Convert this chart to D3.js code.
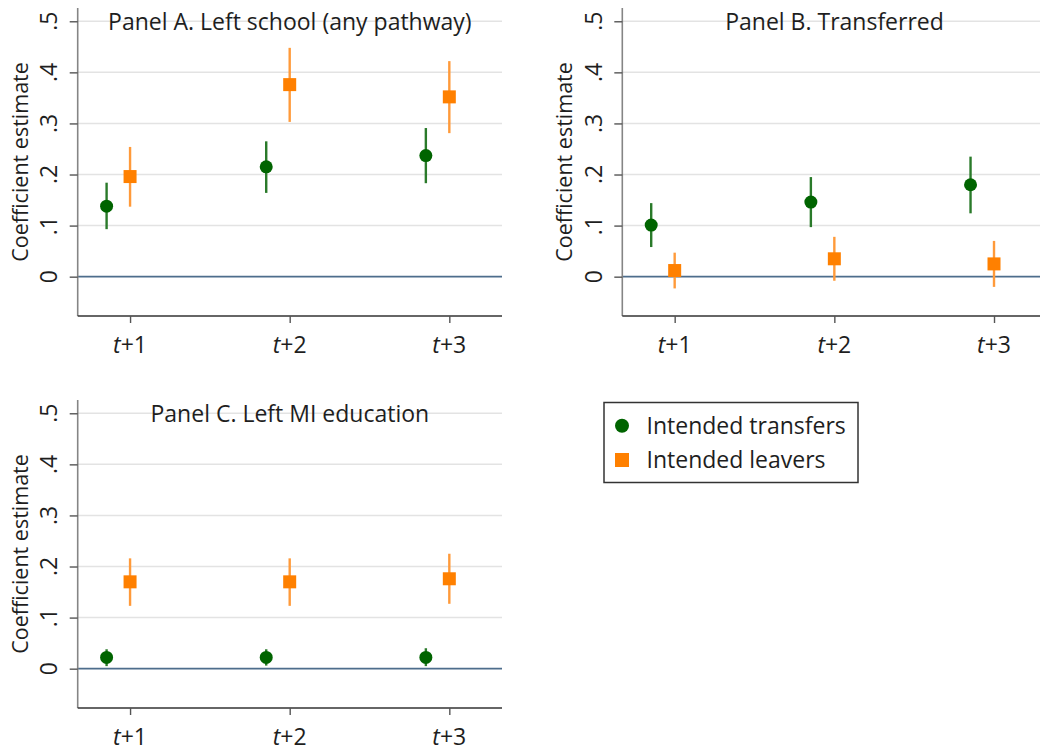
<!DOCTYPE html>
<html>
<head>
<meta charset="utf-8">
<script src="https://cdn.jsdelivr.net/npm/d3@7"></script>
<style>
  html, body { margin: 0; padding: 0; background: #fff; }
  svg { display: block; font-family: "Open Sans", "Noto Sans", sans-serif; }
</style>
</head>
<body>
<svg id="chart" width="1040" height="751"></svg>
<script>
// Horizons (x positions 1, 2, 3)
const horizons = [1, 2, 3];
const horizonLabels = ["+1", "+2", "+3"];
const yTicks = [0, 0.1, 0.2, 0.3, 0.4, 0.5];
const yTickLabels = ["0", ".1", ".2", ".3", ".4", ".5"];

const seriesNames = ["Intended transfers", "Intended leavers"];

// Panel A. Left school (any pathway)
const aTransfers = [0.138, 0.215, 0.237];
const aTransfersLo = [0.093, 0.164, 0.183];
const aTransfersHi = [0.184, 0.265, 0.291];
const aLeavers = [0.196, 0.376, 0.352];
const aLeaversLo = [0.137, 0.303, 0.281];
const aLeaversHi = [0.254, 0.448, 0.422];

// Panel B. Transferred
const bTransfers = [0.101, 0.146, 0.180];
const bTransfersLo = [0.058, 0.097, 0.124];
const bTransfersHi = [0.144, 0.195, 0.235];
const bLeavers = [0.012, 0.035, 0.025];
const bLeaversLo = [-0.023, -0.008, -0.020];
const bLeaversHi = [0.047, 0.078, 0.070];

// Panel C. Left MI education
const cTransfers = [0.022, 0.022, 0.022];
const cTransfersLo = [0.005, 0.006, 0.005];
const cTransfersHi = [0.038, 0.038, 0.040];
const cLeavers = [0.170, 0.170, 0.176];
const cLeaversLo = [0.123, 0.123, 0.127];
const cLeaversHi = [0.216, 0.216, 0.225];

const GREEN = "#006400", GREEN_BAR = "#2a7a2a";
const ORANGE = "#ff8000", ORANGE_BAR = "#ff9a3a";
const FONT = 23;
const LABEL_FONT = 21.5;
const INK = "#1e1e1e";

const panels = [
  { title: "Panel A. Left school (any pathway)", left: 77.7, right: 502, top: 8, bottom: 316,
    t: [aTransfers, aTransfersLo, aTransfersHi], l: [aLeavers, aLeaversLo, aLeaversHi] },
  { title: "Panel B. Transferred", left: 622.3, right: 1046.7, top: 8, bottom: 316,
    t: [bTransfers, bTransfersLo, bTransfersHi], l: [bLeavers, bLeaversLo, bLeaversHi] },
  { title: "Panel C. Left MI education", left: 77.7, right: 502, top: 400, bottom: 708,
    t: [cTransfers, cTransfersLo, cTransfersHi], l: [cLeavers, cLeaversLo, cLeaversHi] }
];

const svg = d3.select("#chart");

function drawPanel(p) {
  const g = svg.append("g");
  const x = d3.scaleLinear().domain([0.672, 3.33]).range([p.left, p.right]);
  const y = d3.scaleLinear().domain([-0.077, 0.526]).range([p.bottom, p.top]);

  // gridlines
  g.selectAll("line.grid").data(yTicks.filter(v => v > 0)).join("line")
    .attr("x1", p.left).attr("x2", p.right)
    .attr("y1", d => y(d)).attr("y2", d => y(d))
    .attr("stroke", "#e3e3e3").attr("stroke-width", 1.5);

  // zero reference line
  g.append("line")
    .attr("x1", p.left).attr("x2", p.right)
    .attr("y1", y(0)).attr("y2", y(0))
    .attr("stroke", "#4d6d8c").attr("stroke-width", 1.6);

  // y axis
  const yAxis = d3.axisLeft(y).tickValues(yTicks).tickSize(8).tickFormat("");
  const ya = g.append("g").attr("transform", `translate(${p.left},0)`).call(yAxis);
  ya.select(".domain").attr("stroke", "#858585").attr("stroke-width", 1.6)
    .attr("d", `M0,${p.top}V${p.bottom}`);
  ya.selectAll(".tick line").attr("stroke", "#555").attr("stroke-width", 1.4);

  g.selectAll("text.ytl").data(yTicks).join("text")
    .attr("transform", (d) => `translate(${p.left - 20.5},${y(d)}) rotate(-90)`)
    .attr("text-anchor", "middle")
    .attr("font-size", FONT).attr("fill", INK)
    .text((d, i) => yTickLabels[i]);

  g.append("text")
    .attr("transform", `translate(${p.left - 50},${(p.top + p.bottom) / 2}) rotate(-90)`)
    .attr("text-anchor", "middle")
    .attr("font-size", LABEL_FONT).attr("fill", INK)
    .text("Coefficient estimate");

  // x axis
  const xAxis = d3.axisBottom(x).tickValues(horizons).tickSize(7).tickFormat("");
  const xa = g.append("g").attr("transform", `translate(0,${p.bottom})`).call(xAxis);
  xa.select(".domain").attr("stroke", "#333").attr("stroke-width", 1.6)
    .attr("d", `M${p.left},0H${p.right}`);
  xa.selectAll(".tick line").attr("stroke", "#555").attr("stroke-width", 1.4);

  const xl = g.selectAll("text.xtl").data(horizons).join("text")
    .attr("x", d => x(d)).attr("y", p.bottom + 37)
    .attr("text-anchor", "middle")
    .attr("font-size", FONT).attr("fill", INK);
  xl.append("tspan").attr("font-style", "italic").text("t");
  xl.append("tspan").text((d, i) => horizonLabels[i]);

  // title
  g.append("text")
    .attr("x", (p.left + p.right) / 2).attr("y", p.top + 22)
    .attr("text-anchor", "middle")
    .attr("font-size", FONT).attr("fill", INK)
    .text(p.title);

  const off = -0.147;

  // intended transfers: confidence bars then markers
  g.selectAll("line.tci").data(horizons).join("line")
    .attr("x1", d => x(d + off)).attr("x2", d => x(d + off))
    .attr("y1", (d, i) => y(p.t[1][i])).attr("y2", (d, i) => y(p.t[2][i]))
    .attr("stroke", GREEN_BAR).attr("stroke-width", 2.4);
  g.selectAll("circle.tpt").data(horizons).join("circle")
    .attr("cx", d => x(d + off)).attr("cy", (d, i) => y(p.t[0][i]))
    .attr("r", 6.5).attr("fill", GREEN);

  // intended leavers
  g.selectAll("line.lci").data(horizons).join("line")
    .attr("x1", d => x(d)).attr("x2", d => x(d))
    .attr("y1", (d, i) => y(p.l[1][i])).attr("y2", (d, i) => y(p.l[2][i]))
    .attr("stroke", ORANGE_BAR).attr("stroke-width", 2.4);
  g.selectAll("rect.lpt").data(horizons).join("rect")
    .attr("x", d => x(d) - 6.5).attr("y", (d, i) => y(p.l[0][i]) - 6.5)
    .attr("width", 13).attr("height", 13).attr("fill", ORANGE);
}

panels.forEach(drawPanel);

// legend
const lg = svg.append("g");
lg.append("rect").attr("x", 604).attr("y", 402.5).attr("width", 254).attr("height", 80)
  .attr("fill", "#fff").attr("stroke", "#333").attr("stroke-width", 1.5);
const legendItems = lg.selectAll("g.item").data(seriesNames).join("g")
  .attr("transform", (d, i) => `translate(622,${425.7 + i * 34.3})`);
legendItems.filter((d, i) => i === 0).append("circle").attr("r", 7).attr("fill", GREEN);
legendItems.filter((d, i) => i === 1).append("rect")
  .attr("x", -7).attr("y", -7).attr("width", 14).attr("height", 14).attr("fill", ORANGE);
legendItems.append("text").attr("x", 24.5).attr("dy", "0.35em")
  .attr("font-size", FONT).attr("fill", INK).text(d => d);
</script>
</body>
</html>
